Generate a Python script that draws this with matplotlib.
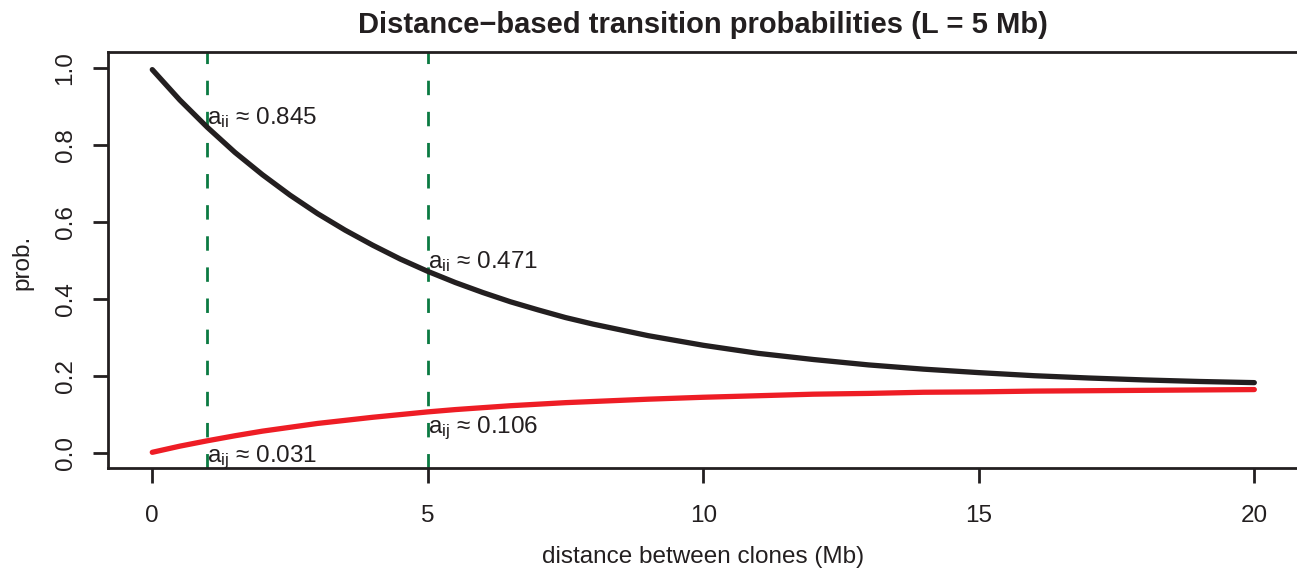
import matplotlib
matplotlib.use("Agg")
import matplotlib.pyplot as plt

# base-R look: Helvetica-like font everywhere, math too
plt.rcParams['font.family'] = ['Liberation Sans', 'DejaVu Sans']
plt.rcParams['mathtext.fontset'] = 'custom'
plt.rcParams['mathtext.rm'] = 'Liberation Sans'
plt.rcParams['mathtext.it'] = 'Liberation Sans'
plt.rcParams['font.size'] = 17.5

# ==========================================
# values
# ==========================================
distance = [0, 0.5, 1, 1.5, 2, 2.5, 3, 3.5, 4, 4.5, 5, 5.5, 6, 6.5, 7, 7.5, 8, 9, 10,
            11, 12, 13, 14, 15, 16, 17, 18, 19, 20]
a_ii = [0.995, 0.916, 0.845, 0.780, 0.722, 0.669, 0.621, 0.578, 0.539, 0.503, 0.471,
        0.442, 0.416, 0.392, 0.371, 0.351, 0.334, 0.304, 0.279,
        0.258, 0.242, 0.228, 0.217, 0.208, 0.200, 0.194, 0.189, 0.185, 0.182]
a_ij = [0.001, 0.017, 0.031, 0.044, 0.056, 0.066, 0.076, 0.084, 0.092, 0.099, 0.106,
        0.112, 0.117, 0.122, 0.126, 0.130, 0.133, 0.139, 0.144,
        0.148, 0.152, 0.154, 0.157, 0.158, 0.160, 0.161, 0.162, 0.163, 0.164]

marked_d = [1, 5]
marked_ii = [0.845, 0.471]
marked_ij = [0.031, 0.106]

xticks = [0, 5, 10, 15, 20]
yticks = [0.0, 0.2, 0.4, 0.6, 0.8, 1.0]

ink = '#231F20'
red = '#EE1D25'
green = '#0B7A42'

W, H = 1297, 575
fig = plt.figure(figsize=(W / 100, H / 100), dpi=100)
# plot region in pixels (R style, 4% padding on each side)
left, right, top, bottom = 108.2, 1298.4, 52.3, 468.1
ax = fig.add_axes([left / W, 1 - bottom / H, (right - left) / W, (bottom - top) / H])

ax.plot(distance, a_ii, color=ink, lw=3.8, solid_capstyle='round', zorder=3)
ax.plot(distance, a_ij, color=red, lw=3.8, solid_capstyle='round', zorder=3)

for d in marked_d:
    ax.axvline(d, color=green, lw=2.0, dashes=(5.2, 6.0), zorder=2)

for d, v in zip(marked_d, marked_ii):
    ax.annotate(r'$\mathrm{a}_{\mathrm{ii}}$' + f' ≈ {v:.3f}', (d, v), xytext=(0, 2),
                textcoords='offset points', ha='left', va='baseline', color=ink, zorder=4)
for d, v in zip(marked_d, marked_ij):
    ax.annotate(r'$\mathrm{a}_{\mathrm{ij}}$' + f' ≈ {v:.3f}', (d, v), xytext=(0, -2),
                textcoords='offset points', ha='left', va='top', color=ink, zorder=4)

ax.set_xlim(-0.8, 20.8)
ax.set_ylim(-0.04, 1.04)
ax.set_xticks(xticks)
ax.set_xticklabels([str(t) for t in xticks])
ax.set_yticks(yticks)
ax.set_yticklabels([f'{t:.1f}' for t in yticks], rotation=90, va='center')

for s in ax.spines.values():
    s.set_linewidth(2.0)
    s.set_color(ink)
ax.tick_params(direction='out', length=10.8, width=2.0, color=ink, labelcolor=ink)
ax.tick_params(axis='x', pad=16)
ax.tick_params(axis='y', pad=12)

fig.text(703 / W, 1 - 25 / H, 'Distance\u2212based transition probabilities (L = 5 Mb)',
         ha='center', va='center', fontsize=21, fontweight='bold', color=ink)
fig.text(703 / W, 1 - 557 / H, 'distance between clones (Mb)',
         ha='center', va='center', color=ink)
fig.text(22 / W, 1 - 262 / H, 'prob.', rotation=90,
         ha='center', va='center', color=ink)

fig.savefig('out.png', dpi=100)
